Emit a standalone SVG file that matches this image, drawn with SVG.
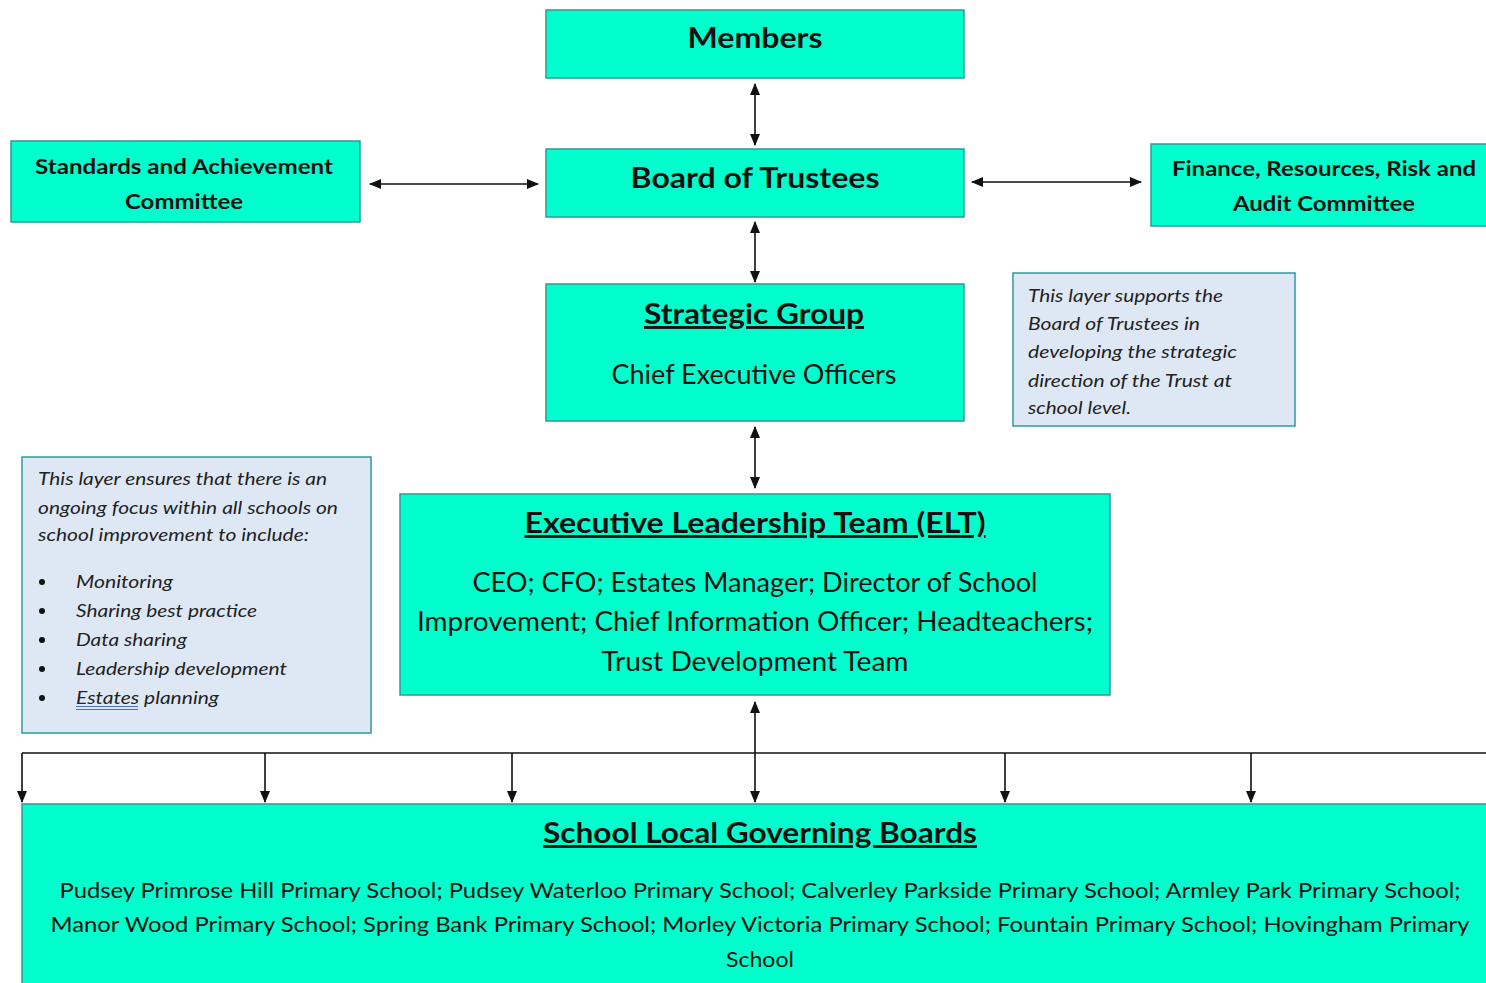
<svg xmlns="http://www.w3.org/2000/svg" width="1486" height="983" viewBox="0 0 1486 983">
<style>
.box{fill:#00FFCC;stroke:#2E9A9A;stroke-width:1.5}
.note{fill:#DEE8F4;stroke:#2E9A9A;stroke-width:1.5}
text{font-family:Lato,"Open Sans","Liberation Sans",sans-serif;fill:#111}
.b{font-weight:bold}
.c{text-anchor:middle}
.i{font-style:italic;font-size:18px;fill:#222}
.u{text-decoration:underline}
.ln{stroke:#111;stroke-width:1.6;fill:none}
</style>
<defs>
<marker id="ah" viewBox="0 0 12 10" refX="11" refY="5" markerWidth="12" markerHeight="10" markerUnits="userSpaceOnUse" orient="auto-start-reverse">
<path d="M0,0 L12,5 L0,10 Z" fill="#111"/>
</marker>
</defs>
<rect width="1486" height="983" fill="#fff"/>
<g id="connectors">
<line class="ln" x1="755" y1="84" x2="755" y2="145" marker-start="url(#ah)" marker-end="url(#ah)"/>
<line class="ln" x1="755" y1="222" x2="755" y2="282" marker-start="url(#ah)" marker-end="url(#ah)"/>
<line class="ln" x1="755" y1="427" x2="755" y2="488" marker-start="url(#ah)" marker-end="url(#ah)"/>
<line class="ln" x1="755" y1="702" x2="755" y2="802" marker-start="url(#ah)" marker-end="url(#ah)"/>
<line class="ln" x1="370" y1="184" x2="538" y2="184" marker-start="url(#ah)" marker-end="url(#ah)"/>
<line class="ln" x1="972" y1="182" x2="1141" y2="182" marker-start="url(#ah)" marker-end="url(#ah)"/>
<line class="ln" x1="22" y1="753" x2="1486" y2="753"/>
<line class="ln" x1="22" y1="753" x2="22" y2="802" marker-end="url(#ah)"/>
<line class="ln" x1="265" y1="753" x2="265" y2="802" marker-end="url(#ah)"/>
<line class="ln" x1="512" y1="753" x2="512" y2="802" marker-end="url(#ah)"/>
<line class="ln" x1="1005" y1="753" x2="1005" y2="802" marker-end="url(#ah)"/>
<line class="ln" x1="1251" y1="753" x2="1251" y2="802" marker-end="url(#ah)"/>
</g>
<g id="members">
<rect class="box" x="546" y="10" width="418" height="68"/>
<text class="b c" x="755" y="48" font-size="28" textLength="135" lengthAdjust="spacingAndGlyphs">Members</text>
</g>
<g id="board">
<rect class="box" x="546" y="149" width="418" height="68"/>
<text class="b c" x="755" y="188" font-size="28" textLength="249" lengthAdjust="spacingAndGlyphs">Board of Trustees</text>
</g>
<g id="standards">
<rect class="box" x="11" y="141" width="349" height="81"/>
<text class="b c" x="184" y="174" font-size="21" textLength="298" lengthAdjust="spacingAndGlyphs">Standards and Achievement</text>
<text class="b c" x="184" y="209" font-size="21" textLength="118" lengthAdjust="spacingAndGlyphs">Committee</text>
</g>
<g id="finance">
<rect class="box" x="1151" y="144" width="340" height="82"/>
<text class="b c" x="1324" y="176" font-size="21" textLength="304" lengthAdjust="spacingAndGlyphs">Finance, Resources, Risk and</text>
<text class="b c" x="1324" y="211" font-size="21" textLength="182" lengthAdjust="spacingAndGlyphs">Audit Committee</text>
</g>
<g id="strategic">
<rect class="box" x="546" y="284" width="418" height="137"/>
<text class="b c u" x="754" y="324" font-size="29" textLength="220" lengthAdjust="spacingAndGlyphs">Strategic Group</text>
<text class="c" x="754" y="384" font-size="27" textLength="285" lengthAdjust="spacingAndGlyphs">Chief Executive Officers</text>
</g>
<g id="note-strategic">
<rect class="note" x="1013" y="273" width="282" height="153"/>
<text class="i" x="1028" y="302" textLength="195" lengthAdjust="spacingAndGlyphs">This layer supports the</text>
<text class="i" x="1028" y="330" textLength="172" lengthAdjust="spacingAndGlyphs">Board of Trustees in</text>
<text class="i" x="1028" y="358" textLength="209" lengthAdjust="spacingAndGlyphs">developing the strategic</text>
<text class="i" x="1028" y="387" textLength="204" lengthAdjust="spacingAndGlyphs">direction of the Trust at</text>
<text class="i" x="1028" y="414" textLength="103" lengthAdjust="spacingAndGlyphs">school level.</text>
</g>
<g id="note-elt">
<rect class="note" x="22" y="457" width="349" height="276"/>
<text class="i" x="38" y="485" textLength="289" lengthAdjust="spacingAndGlyphs">This layer ensures that there is an</text>
<text class="i" x="38" y="514" textLength="300" lengthAdjust="spacingAndGlyphs">ongoing focus within all schools on</text>
<text class="i" x="38" y="541" textLength="271" lengthAdjust="spacingAndGlyphs">school improvement to include:</text>
<circle cx="42" cy="582" r="3" fill="#111"/>
<circle cx="42" cy="611" r="3" fill="#111"/>
<circle cx="42" cy="640" r="3" fill="#111"/>
<circle cx="42" cy="669" r="3" fill="#111"/>
<circle cx="42" cy="698" r="3" fill="#111"/>
<text class="i" x="76" y="588" textLength="97" lengthAdjust="spacingAndGlyphs">Monitoring</text>
<text class="i" x="76" y="617" textLength="181" lengthAdjust="spacingAndGlyphs">Sharing best practice</text>
<text class="i" x="76" y="646" textLength="111" lengthAdjust="spacingAndGlyphs">Data sharing</text>
<text class="i" x="76" y="675" textLength="211" lengthAdjust="spacingAndGlyphs">Leadership development</text>
<text class="i" x="76" y="704" textLength="143" lengthAdjust="spacingAndGlyphs">Estates planning</text>
<line x1="76" y1="706.5" x2="138" y2="706.5" stroke="#4472C4" stroke-width="1"/>
<line x1="76" y1="709.5" x2="138" y2="709.5" stroke="#4472C4" stroke-width="1"/>
</g>
<g id="elt">
<rect class="box" x="400" y="494" width="710" height="201"/>
<text class="b c u" x="755" y="533" font-size="29" textLength="461" lengthAdjust="spacingAndGlyphs">Executive Leadership Team (ELT)</text>
<text class="c" x="755" y="592" font-size="27" textLength="565" lengthAdjust="spacingAndGlyphs">CEO; CFO; Estates Manager; Director of School</text>
<text class="c" x="755" y="631" font-size="27" textLength="676" lengthAdjust="spacingAndGlyphs">Improvement; Chief Information Officer; Headteachers;</text>
<text class="c" x="755" y="671" font-size="27" textLength="307" lengthAdjust="spacingAndGlyphs">Trust Development Team</text>
</g>
<g id="slgb">
<rect class="box" x="22" y="804" width="1470" height="190"/>
<text class="b c u" x="760" y="843" font-size="29" textLength="434" lengthAdjust="spacingAndGlyphs">School Local Governing Boards</text>
<text class="c" x="760" y="898" font-size="21" textLength="1401" lengthAdjust="spacingAndGlyphs">Pudsey Primrose Hill Primary School; Pudsey Waterloo Primary School; Calverley Parkside Primary School; Armley Park Primary School;</text>
<text class="c" x="760" y="932" font-size="21" textLength="1419" lengthAdjust="spacingAndGlyphs">Manor Wood Primary School; Spring Bank Primary School; Morley Victoria Primary School; Fountain Primary School; Hovingham Primary</text>
<text class="c" x="760" y="967" font-size="21" textLength="68" lengthAdjust="spacingAndGlyphs">School</text>
</g>
</svg>
